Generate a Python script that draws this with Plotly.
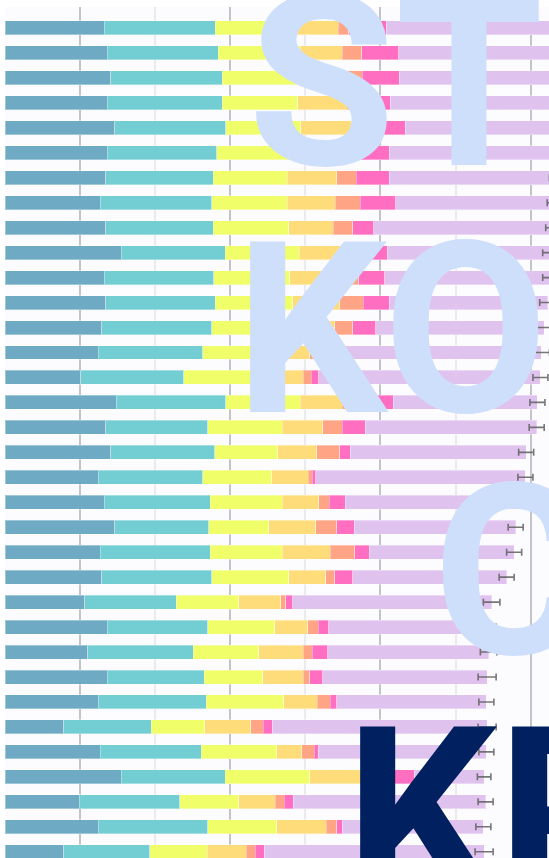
import plotly.graph_objects as go

categories = [f"Row {i+1}" for i in range(34)]

seg_blue = [13.2, 13.6, 14.1, 13.6, 14.6, 13.6, 13.4, 12.7, 13.4, 15.5, 13.2, 13.4, 12.9, 12.4, 10.1, 14.8, 13.4,
            14.1, 12.4, 13.2, 14.6, 12.7, 12.9, 10.6, 13.6, 11.0, 13.6, 12.4, 7.8, 12.7, 15.5, 9.9, 12.4, 7.8]
seg_teal = [14.8, 14.8, 14.8, 15.3, 14.8, 14.6, 14.3, 14.8, 14.3, 13.8, 14.6, 14.6, 14.6, 13.9, 13.7, 14.6, 13.6,
            13.8, 13.9, 14.1, 12.5, 14.6, 14.6, 12.2, 13.4, 14.1, 12.9, 14.4, 11.7, 13.4, 13.8, 13.4, 14.6, 11.5]
seg_yellow = [10.9, 10.9, 10.4, 10.1, 10.0, 10.0, 9.9, 10.1, 10.1, 9.9, 10.1, 10.3, 10.4, 10.6, 11.5, 9.9, 9.9,
              8.4, 9.2, 9.6, 8.0, 9.6, 10.3, 8.3, 8.9, 8.7, 7.8, 10.3, 7.1, 10.1, 11.3, 7.8, 9.2, 7.6]
seg_orange = [5.5, 5.6, 6.0, 6.6, 6.8, 6.1, 6.6, 6.4, 5.9, 6.0, 6.8, 6.3, 6.0, 3.7, 4.4, 5.6, 5.4,
              5.2, 4.9, 4.9, 6.3, 6.4, 4.9, 5.6, 4.4, 5.9, 5.4, 4.5, 6.1, 3.3, 7.7, 4.9, 6.6, 5.2]
seg_salmon = [1.4, 2.6, 2.3, 0.8, 1.2, 2.3, 2.6, 3.3, 2.6, 2.0, 2.4, 3.1, 2.4, 1.7, 1.1, 1.7, 2.6,
              3.1, 0.5, 1.4, 2.8, 3.3, 1.2, 0.7, 1.4, 1.2, 0.9, 1.7, 1.7, 1.7, 1.9, 1.2, 1.4, 1.2]
seg_pink = [5.0, 4.9, 4.9, 4.9, 5.9, 4.6, 4.4, 4.7, 2.8, 3.7, 3.5, 3.5, 3.1, 0.9, 1.0, 5.1, 3.1,
            1.4, 0.5, 2.1, 2.3, 1.9, 2.4, 0.9, 1.4, 2.1, 1.7, 0.9, 1.2, 0.5, 4.3, 1.2, 0.7, 1.2]
seg_lavender = [24.4, 22.5, 22.3, 23.2, 20.8, 22.7, 22.4, 21.3, 24.0, 21.8, 22.1, 21.1, 22.4, 28.2, 29.5, 19.2, 22.8,
                23.4, 27.9, 23.4, 21.5, 19.3, 20.5, 26.5, 21.3, 21.4, 21.9, 19.9, 28.6, 22.4, 9.3, 25.6, 18.8, 29.3]
total_err = [1.1, 1.1, 1.1, 1.1, 1.1, 1.1, 1.1, 1.1, 1.1, 1.1, 1.1, 1.1, 1.1, 1.1, 1.0, 1.0, 1.0,
             1.0, 1.0, 1.0, 1.0, 1.0, 1.0, 1.1, 1.0, 1.1, 1.2, 1.0, 1.2, 1.0, 0.9, 1.0, 1.0, 1.2]

series = [
    ("Segment 1", seg_blue, "#6eaac4"),
    ("Segment 2", seg_teal, "#72ced3"),
    ("Segment 3", seg_yellow, "#f0fe6a"),
    ("Segment 4", seg_orange, "#ffdc7a"),
    ("Segment 5", seg_salmon, "#ffa585"),
    ("Segment 6", seg_pink, "#ff6ec0"),
    ("Segment 7", seg_lavender, "#dfc3ee"),
]

# overlay words: text, colour, left of text box (px), vertical centre of capitals (px)
overlay_words = [
    ("STR", "#cddffb", 248, 83),
    ("KO", "#cddffb", 235, 330),
    ("C", "#cddffb", 433, 572),
    ("KR", "#002060", 345, 815),
]
WORD_SIZE = 239

W, H = 549, 858
ML, MR, MT, MB = 5, 0, 7, 0

fig = go.Figure()
for name, vals, col in series:
    fig.add_trace(go.Bar(
        y=categories, x=vals, name=name, orientation="h",
        marker=dict(color=col, line=dict(color="rgba(255,255,255,0.35)", width=1)),
        width=0.56,
    ))

totals = [sum(v) for v in zip(*[s[1] for s in series])]
fig.add_trace(go.Scatter(
    y=categories, x=totals, mode="markers",
    marker=dict(size=1, opacity=0),
    error_x=dict(type="data", array=total_err, color="rgba(95,95,95,0.85)", thickness=1.6, width=3.5),
    showlegend=False,
))

for text, col, px, py in overlay_words:
    fig.add_annotation(
        text=text, x=(px - ML) / (W - ML - MR), y=(H - MB - py) / (H - MT - MB),
        xref="paper", yref="paper", xanchor="left", yanchor="middle",
        showarrow=False, borderpad=0, borderwidth=0,
        font=dict(family="Roboto", size=WORD_SIZE, color=col, weight=700),
    )

fig.update_layout(
    width=W, height=H, barmode="stack", showlegend=False,
    margin=dict(l=ML, r=MR, t=MT, b=MB, pad=0),
    paper_bgcolor="#ffffff", plot_bgcolor="#fcfcfe",
    xaxis=dict(range=[0, 72.44], tick0=10, dtick=20, showticklabels=False, ticks="",
               showgrid=True, gridcolor="#c3c3cb", gridwidth=2, zeroline=False,
               minor=dict(tick0=0, dtick=20, showgrid=True, gridcolor="#e9ebef", gridwidth=2)),
    yaxis=dict(range=[33.25, -0.84], showticklabels=False, ticks="", showgrid=False, zeroline=False),
)

fig.write_html("out.html", config={"displayModeBar": False},
               post_script="document.body.style.margin = '0';")
